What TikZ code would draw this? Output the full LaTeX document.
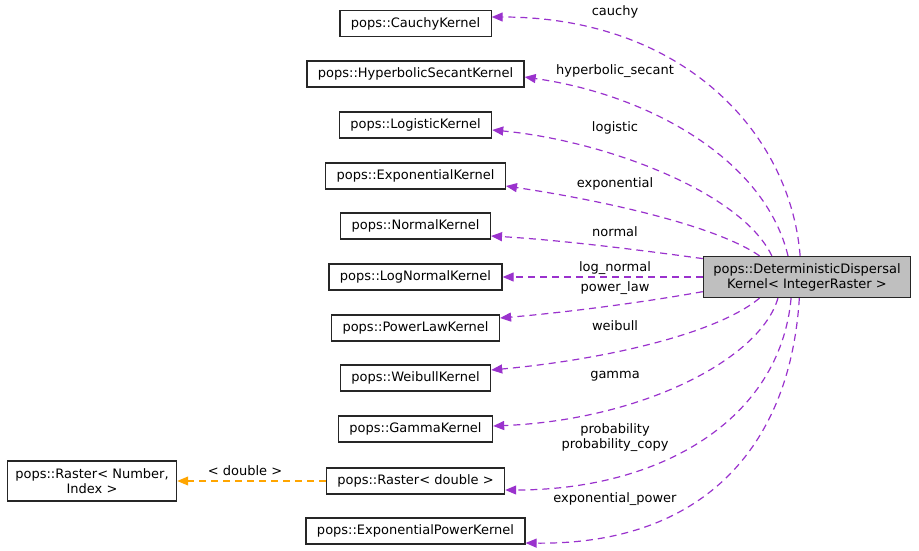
\documentclass[tikz,border=0pt]{standalone}
\usepackage{fontspec}
\setmainfont{DejaVu Sans}
\usetikzlibrary{arrows.meta}
\definecolor{usagepurple}{HTML}{9A32CD}
\definecolor{templateorange}{HTML}{FFA500}

\begin{document}
\begin{tikzpicture}[x=1pt,y=-1pt,
    classbox/.style={draw=black!85,line width=1.2pt,fill=white,inner xsep=11pt,inner ysep=2pt,minimum height=26pt,font=\nodefontsize},
    usage/.style={draw=usagepurple,line width=1.2pt,dash pattern=on 7pt off 5pt,-{Triangle[length=11pt,width=9pt,fill=usagepurple]}},
    instance/.style={draw=templateorange,line width=1.2pt,dash pattern=on 7pt off 5pt,-{Triangle[length=11pt,width=9pt,fill=templateorange]}},
    edgelabel/.style={font=\nodefontsize,inner sep=1pt}]
    \providecommand{\nodefontsize}{\fontsize{13}{15}\selectfont}
    \pgfmathsetmacro{\kernelx}{415.5}
    \useasboundingbox (0,0) rectangle (919,551);
    % the dispersal kernel and what it uses
    \node[classbox,fill=black!25,align=center,minimum height=41pt,inner xsep=10pt] (main) at (807,277) {pops::DeterministicDispersal\\Kernel< IntegerRaster >};
    \node[classbox] (cauchy) at (\kernelx,23.5) {pops::CauchyKernel};
    \node[classbox] (hypsec) at (\kernelx,74) {pops::HyperbolicSecantKernel};
    \node[classbox] (logistic) at (\kernelx,125) {pops::LogisticKernel};
    \node[classbox] (exponential) at (\kernelx,176) {pops::ExponentialKernel};
    \node[classbox] (normal) at (\kernelx,226) {pops::NormalKernel};
    \node[classbox] (lognormal) at (\kernelx,277) {pops::LogNormalKernel};
    \node[classbox] (powerlaw) at (\kernelx,328) {pops::PowerLawKernel};
    \node[classbox] (weibull) at (\kernelx,378) {pops::WeibullKernel};
    \node[classbox] (gamma) at (\kernelx,429) {pops::GammaKernel};
    \node[classbox] (rasterdouble) at (\kernelx,481) {pops::Raster< double >};
    \node[classbox] (exppower) at (\kernelx,531) {pops::ExponentialPowerKernel};
    \node[classbox,align=center,minimum height=40pt,inner xsep=8pt] (raster) at (92,481) {pops::Raster< Number,\\Index >};
    % member labels
    \node[edgelabel] (lcauchy) at (615,12) {cauchy};
    \node[edgelabel] (lhypsec) at (615,71) {hyperbolic\_secant};
    \node[edgelabel] (llogistic) at (615,128) {logistic};
    \node[edgelabel] (lexponential) at (615,184) {exponential};
    \node[edgelabel] (lnormal) at (615,232) {normal};
    \node[edgelabel] (llognormal) at (615,268) {log\_normal};
    \node[edgelabel] (lpowerlaw) at (615,288) {power\_law};
    \node[edgelabel] (lweibull) at (615,326) {weibull};
    \node[edgelabel] (lgamma) at (615,376) {gamma};
    \node[edgelabel,align=center] (lprob) at (615,438) {probability\\probability\_copy};
    \node[edgelabel] (lexppower) at (615,499) {exponential\_power};
    \node[edgelabel] (ldouble) at (245,471) {< double >};
    % connectors
    \draw[usage] (main.108.4) .. controls (790,130) and (680,17) .. ([yshift=6.5pt]cauchy.east);
    \draw[usage] (main.132.1) .. controls (765,160) and (650,95) .. ([yshift=-3pt]hypsec.east);
    \draw[usage] (main.149) .. controls (740,190) and (600,140) .. ([yshift=-5pt]logistic.east);
    \draw[usage] (main.156.8) .. controls (715,225) and (600,200) .. ([yshift=-10pt]exponential.east);
    \draw[usage] (main.170.8) .. controls (640,250) and (560,240) .. ([yshift=-10pt]normal.east);
    \draw[usage] (main.west) -- (lognormal.east);
    \draw[usage] (main.188.7) .. controls (640,303) and (560,313) .. ([yshift=10pt]powerlaw.east);
    \draw[usage] (main.204.9) .. controls (715,335) and (600,360) .. ([yshift=8pt]weibull.east);
    \draw[usage] (main.216.5) .. controls (760,360) and (640,420) .. ([yshift=3pt]gamma.east);
    \draw[usage] (main.233.1) .. controls (780,420) and (660,490) .. ([yshift=-9pt]rasterdouble.east);
    \draw[usage] (main.250.7) .. controls (790,450) and (700,545) .. ([yshift=-12pt]exppower.east);
    \draw[instance] (rasterdouble.west) -- (raster.east);
\end{tikzpicture}
\end{document}
